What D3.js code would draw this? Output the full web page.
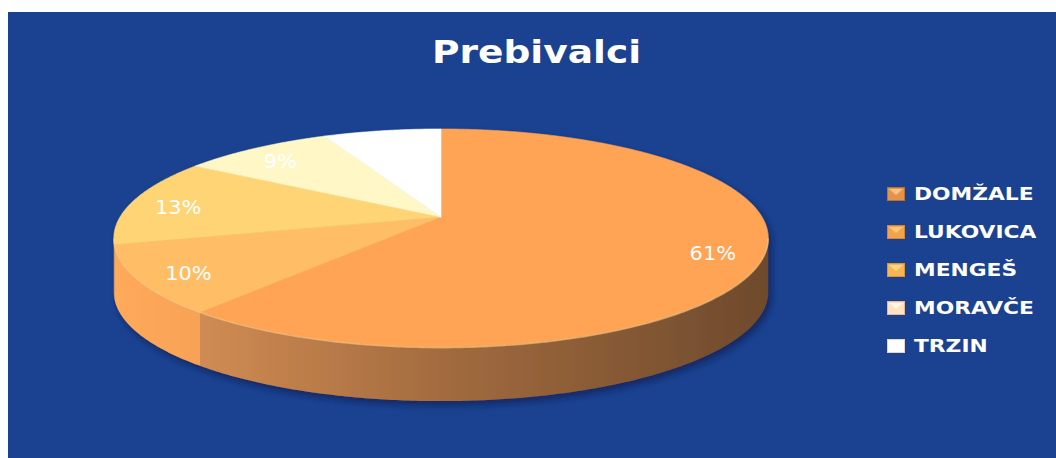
<!DOCTYPE html>
<html>
<head>
<meta charset="utf-8">
<script src="https://cdn.jsdelivr.net/npm/d3@7"></script>
<style>
  body { margin: 0; background: #fff; }
  text { font-family: "DejaVu Sans", Verdana, sans-serif; }
</style>
</head>
<body>
<div id="chart"></div>
<script>
// Data
const categories = ["DOMŽALE", "LUKOVICA", "MENGEŠ", "MORAVČE", "TRZIN"];
const shares = [61, 10, 13, 9, 7];
const labels = ["61%", "10%", "13%", "9%", "7%"];

// Styles
const topColors = ["#FFA354", "#FFBE66", "#FFD474", "#FFF7C6", "#FFFFFF"];
const sideStops = [
    [["0%", "#E0975A"], ["50%", "#A36B3F"], ["100%", "#6E4A2C"]],
    [["0%", "#FFAA5B"], ["20%", "#F29D53"], ["100%", "#C9834A"]],
    [["0%", "#FFB85F"], ["100%", "#E7A455"]],
    [["0%", "#FFE9B0"], ["100%", "#F0D59A"]],
    [["0%", "#F4F0EC"], ["100%", "#DCD4CC"]]
];
const markerFill = ["#E3934C", "#F4A34C", "#F7B553", "#FFE2C2", "#FFFFFF"];
const markerEdge = ["#B8733A", "#D48636", "#D9963A", "#E6B98F", "#E2D6CB"];
const markerLight = ["#FFC27A", "#FFC878", "#FFD684", "#FFF4E6", "#FFFFFF"];

const W = 1056, H = 458;
const svg = d3.select("#chart").append("svg")
    .attr("width", W).attr("height", H);

const defs = svg.append("defs");

// Background panel
svg.append("rect")
    .attr("x", 8).attr("y", 12)
    .attr("width", W - 8).attr("height", H - 12)
    .attr("fill", "#1A4290");

// Title
const title = svg.append("text")
    .attr("x", 432).attr("y", 63)
    .attr("fill", "#fff")
    .style("font-size", "32px")
    .style("font-weight", "bold")
    .text("Prebivalci");
title.attr("textLength", 209).attr("lengthAdjust", "spacingAndGlyphs");

// Perspective projection of the pie disc
const cx = 441, cy = 217, A = 321, B = 105, p = 0.193, T = 54;
function proj(theta, k, dz) {
    const u = k * Math.sin(theta), v = k * Math.cos(theta), w = 1 + p * v;
    return [cx + A * u / w, cy - B * v / w + dz];
}
function arcPoints(a0, a1, k, dz) {
    const n = Math.max(2, Math.ceil((a1 - a0) / 0.01));
    return d3.range(n + 1).map(i => proj(a0 + (a1 - a0) * i / n, k, dz));
}
const line = d3.line();

const pie = d3.pie().sort(null).startAngle(0).endAngle(2 * Math.PI);
const arcs = pie(shares);

// gradients for the side walls
sideStops.forEach((stops, i) => {
    const g = defs.append("linearGradient")
        .attr("id", "side" + i)
        .attr("gradientUnits", "userSpaceOnUse")
        .attr("x1", cx - A * 1.02).attr("x2", cx + A * 1.02)
        .attr("y1", 0).attr("y2", 0);
    stops.forEach(s => g.append("stop").attr("offset", s[0]).attr("stop-color", s[1]));
});

// drop shadow
const f = defs.append("filter").attr("id", "shadow")
    .attr("x", "-10%").attr("y", "-10%").attr("width", "120%").attr("height", "130%");
f.append("feDropShadow")
    .attr("dx", 3).attr("dy", 4).attr("stdDeviation", 3)
    .attr("flood-color", "#0B1F4E").attr("flood-opacity", 0.7);

const pieG = svg.append("g").attr("filter", "url(#shadow)");

// side walls (only front half is visible)
const thR = Math.acos(-p), thL = 2 * Math.PI - thR;
arcs.forEach((d, i) => {
    const s0 = Math.max(d.startAngle, thR), s1 = Math.min(d.endAngle, thL);
    if (s1 <= s0) return;
    const pts = arcPoints(s0, s1, 1, 0).concat(arcPoints(s0, s1, 1, T).reverse());
    pieG.append("path")
        .attr("d", line(pts) + "Z")
        .attr("fill", `url(#side${i})`);
});

// top faces
arcs.forEach((d, i) => {
    const pts = [proj(0, 0, 0)].concat(arcPoints(d.startAngle, d.endAngle, 1, 0));
    pieG.append("path")
        .attr("d", line(pts) + "Z")
        .attr("fill", topColors[i])
        .attr("stroke", topColors[i])
        .attr("stroke-width", 0.6);
});

// soft highlight along the front rim
svg.append("path")
    .attr("d", line(arcPoints(thR, thL, 1, 0.5)))
    .attr("fill", "none")
    .attr("stroke", "#FFD58C")
    .attr("stroke-width", 1.6)
    .attr("stroke-opacity", 0.55);

// percentage labels
arcs.forEach((d, i) => {
    const mid = (d.startAngle + d.endAngle) / 2;
    const [x, y] = proj(mid, 0.85, 4);
    const t = svg.append("text")
        .attr("x", x).attr("y", y)
        .attr("text-anchor", "middle")
        .attr("dominant-baseline", "central")
        .attr("fill", "#fff")
        .style("font-size", "19px")
        .text(labels[i]);
    t.attr("textLength", t.node().getComputedTextLength() * 1.1)
        .attr("lengthAdjust", "spacingAndGlyphs");
});

// legend
const legendY = d3.scalePoint().domain(categories).range([194, 346]);
categories.forEach((c, i) => {
    const y = legendY(c);
    const g = svg.append("g");
    g.append("rect")
        .attr("x", 887.5).attr("y", y - 6.5)
        .attr("width", 17).attr("height", 13)
        .attr("fill", markerFill[i])
        .attr("stroke", markerEdge[i]).attr("stroke-width", 1);
    g.append("path")
        .attr("d", `M${889},${y - 5}L${903},${y - 5}L${896},${y + 1}Z`)
        .attr("fill", markerLight[i]);
    const t = g.append("text")
        .attr("x", 914).attr("y", y)
        .attr("dominant-baseline", "central")
        .attr("fill", "#fff")
        .style("font-size", "17px")
        .style("font-weight", "bold")
        .text(c);
    t.attr("textLength", t.node().getComputedTextLength() * 1.28)
        .attr("lengthAdjust", "spacingAndGlyphs");
});
</script>
</body>
</html>
